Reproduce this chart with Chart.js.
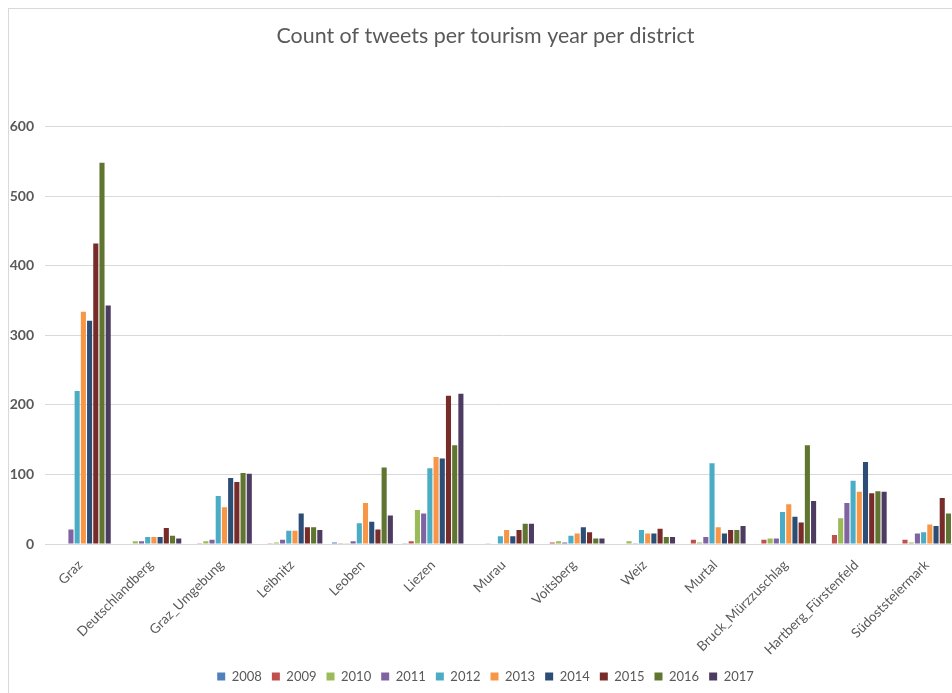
<!DOCTYPE html>
<html>
<head>
<meta charset="utf-8">
<script src="https://cdn.jsdelivr.net/npm/chart.js@4.4.1/dist/chart.umd.min.js"></script>
<style>
  html, body { margin:0; padding:0; background:#fff; overflow:hidden; }
  #frame { position:absolute; left:8px; top:8px; width:960px; height:700px;
           border-left:1px solid #d9d9d9; border-top:1px solid #d9d9d9; }
  #wrap { position:absolute; left:0; top:0; width:958px; height:684px; }
</style>
</head>
<body>
<div id="frame"><div id="wrap"><canvas id="c"></canvas></div></div>
<script>
const districts = ["Graz","Deutschlandberg","Graz_Umgebung","Leibnitz","Leoben","Liezen","Murau",
                   "Voitsberg","Weiz","Murtal","Bruck_Mürzzuschlag","Hartberg_Fürstenfeld","Südoststeiermark"];
const years  = ["2008","2009","2010","2011","2012","2013","2014","2015","2016","2017"];
const colors = ["#4F81BD","#C0504D","#9BBB59","#8064A2","#4BACC6","#F79646","#2C4D75","#772C2A","#5F7530","#4D3B62"];

// one array per tourism year, in district order
const y2008 = [0,0,0,0,2,1,0,0,0,0,0,0,0];
const y2009 = [0,0,1,1,1,4,0,2,0,6,6,13,6];
const y2010 = [0,4,4,2,1,49,1,4,4,2,8,37,2];
const y2011 = [21,4,6,6,4,44,0,2,1,10,8,59,15];
const y2012 = [220,10,69,19,30,109,11,12,20,116,46,91,17];
const y2013 = [334,10,53,19,59,125,20,15,15,24,57,75,28];
const y2014 = [321,10,95,44,32,123,11,24,15,15,39,118,26];
const y2015 = [432,23,89,24,21,213,20,17,22,20,31,73,66];
const y2016 = [548,12,102,24,110,142,29,8,10,20,142,76,44];
const y2017 = [343,8,101,20,41,216,29,8,10,26,62,75,63];
const series = [y2008,y2009,y2010,y2011,y2012,y2013,y2014,y2015,y2016,y2017];

const yTicks = [0,100,200,300,400,500,600];

const FONT = "Lato, 'Open Sans', sans-serif";
const GREY = "#595959";

new Chart(document.getElementById("c"), {
  type:"bar",
  data:{
    labels: districts,
    datasets: years.map((y,i)=>({
      label:y, data:series[i], backgroundColor:colors[i], borderWidth:0,
      categoryPercentage:0.88, barPercentage:0.82,
    })),
  },
  options:{
    responsive:true, maintainAspectRatio:false, animation:false,
    layout:{ padding:{ left:0, right:5, top:0, bottom:0 } },
    plugins:{
      title:{ display:true, text:"Count of tweets per tourism year per district",
              color:GREY, font:{ family:FONT, size:21.4, weight:"normal" }, padding:{ top:14, bottom:78 } },
      legend:{ position:"bottom",
               labels:{ boxWidth:8, boxHeight:8, color:GREY, padding:10, font:{ family:FONT, size:13 } } },
      tooltip:{ enabled:false },
    },
    scales:{
      x:{
        grid:{ display:false }, border:{ display:true, color:"#d9d9d9" },
        ticks:{ color:GREY, font:{ family:FONT, size:13.5 }, minRotation:45, maxRotation:45, padding:5 },
        afterFit: s => { s.height = 116; },
      },
      y:{
        min:0, max:600,
        afterBuildTicks: s => { s.ticks = yTicks.map(v=>({ value:v })); },
        grid:{ color:"#d9d9d9", drawTicks:false }, border:{ display:false },
        ticks:{ color:GREY, padding:11, font:{ family:FONT, size:14, weight:"bold" } },
        afterFit: s => { s.width = 36; },
      },
    },
  },
});
</script>
</body>
</html>
